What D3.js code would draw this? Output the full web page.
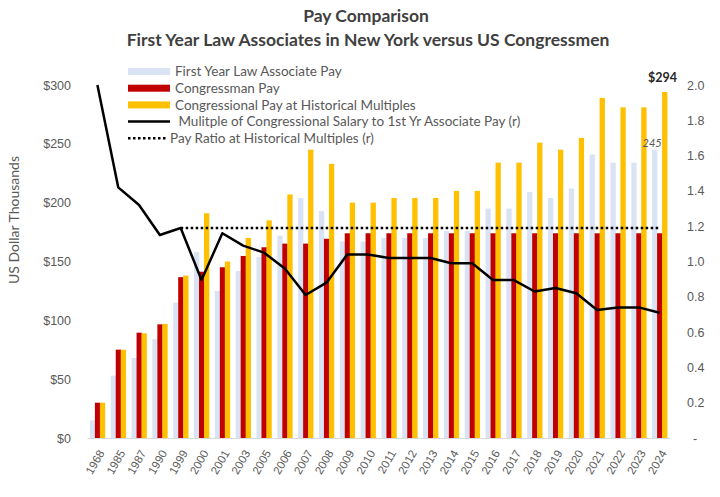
<!DOCTYPE html>
<html>
<head>
<meta charset="utf-8">
<script src="https://cdn.jsdelivr.net/npm/d3@7"></script>
<style>
  body { margin: 0; background: #fff; }
  svg { font-family: Lato, "Open Sans", sans-serif; }
  .axis text { fill: #595959; font-size: 12.5px; }
  .axis.x text { font-size: 11.5px; }
</style>
</head>
<body>
<div id="chart-container"></div>
<script>
// categories and series, values in US$ thousands (ratio series unitless)
const years = ["1968", "1985", "1987", "1990", "1999", "2000", "2001", "2003", "2005", "2006", "2007", "2008",
    "2009", "2010", "2011", "2012", "2013", "2014", "2015", "2016", "2017", "2018", "2019", "2020",
    "2021", "2022", "2023", "2024"];
const associatePay = [15, 53, 68, 84, 115, 158, 125, 142, 154, 172, 204, 193,
    167, 167, 170, 170, 170, 176, 176, 195, 195, 209, 204, 212, 241, 234, 234, 245];
const congressPay = [30, 75.1, 89.5, 96.6, 136.7, 141.3, 145.1, 154.7, 162.1, 165.2, 165.2, 169.3,
    174, 174, 174, 174, 174, 174, 174, 174, 174, 174, 174, 174, 174, 174, 174, 174];
const historicalPay = [30, 75, 89, 97, 138, 191, 150, 170, 185, 207, 245, 233,
    200, 200, 204, 204, 204, 210, 210, 234, 234, 251, 245, 255, 289, 281, 281, 294];
const payMultiple = [2.0, 1.42, 1.32, 1.15, 1.19, 0.895, 1.16, 1.09, 1.05, 0.96, 0.81, 0.88,
    1.04, 1.04, 1.02, 1.02, 1.02, 0.99, 0.99, 0.895, 0.895, 0.83, 0.85, 0.82, 0.725, 0.74, 0.74, 0.71];
const historicalRatio = [null, null, null, null, 1.19, 1.19, 1.19, 1.19, 1.19, 1.19, 1.19, 1.19,
    1.19, 1.19, 1.19, 1.19, 1.19, 1.19, 1.19, 1.19, 1.19, 1.19, 1.19, 1.19, 1.19, 1.19, 1.19, 1.19];
const leftTicks = [0, 50, 100, 150, 200, 250, 300];
const rightTicks = [0, 0.2, 0.4, 0.6, 0.8, 1.0, 1.2, 1.4, 1.6, 1.8, 2.0];

const seriesNames = ["associate", "congress", "historical"];
const colors = { associate: "#dae3f3", congress: "#c00000", historical: "#ffc000" };

const width = 720, height = 497;

const svg = d3.select("#chart-container")
    .append("svg")
    .attr("width", width)
    .attr("height", height);

const x = d3.scaleBand()
    .domain(years)
    .range([87, 670])
    .paddingInner(0.28)
    .paddingOuter(0.14);

const x1 = d3.scaleBand()
    .domain(seriesNames)
    .range([0, x.bandwidth()]);

const y = d3.scaleLinear().domain([0, 300]).range([438, 85]);
const y2 = d3.scaleLinear().domain([0, 2]).range([438, 85]);

const rows = years.map((yr, i) => ({
    year: yr,
    associate: associatePay[i],
    congress: congressPay[i],
    historical: historicalPay[i],
    multiple: payMultiple[i],
    ratio: historicalRatio[i]
}));

// titles
svg.append("text")
    .attr("x", 366).attr("y", 22)
    .attr("text-anchor", "middle")
    .attr("font-weight", "bold").attr("font-size", 17.5).attr("fill", "#404040")
    .text("Pay Comparison");
svg.append("text")
    .attr("x", 368).attr("y", 46)
    .attr("text-anchor", "middle")
    .attr("font-weight", "bold").attr("font-size", 17.5).attr("fill", "#404040")
    .text("First Year Law Associates in New York versus US Congressmen");

// bars
const groups = svg.append("g").selectAll("g")
    .data(rows)
    .enter().append("g")
    .attr("transform", d => `translate(${x(d.year)},0)`);

groups.selectAll("rect")
    .data(d => seriesNames.map(k => ({ key: k, value: d[k] })))
    .enter().append("rect")
    .attr("x", d => x1(d.key))
    .attr("width", x1.bandwidth() + 0.3)
    .attr("y", d => y(d.value))
    .attr("height", d => y(0) - y(d.value))
    .attr("fill", d => colors[d.key]);

// x axis
svg.append("g")
    .attr("class", "axis x")
    .attr("transform", `translate(0,${y(0)})`)
    .call(d3.axisBottom(x).tickSize(0).tickSizeOuter(0))
    .call(g => g.select(".domain").attr("stroke", "#d9d9d9"))
    .call(g => g.selectAll("text")
        .attr("text-anchor", "end")
        .attr("x", 0).attr("y", 0)
        .attr("transform", "translate(4,13) rotate(-60)")
        .attr("dx", 0).attr("dy", "0.35em"));

// left axis
svg.append("g")
    .attr("class", "axis y")
    .attr("transform", "translate(74,0)")
    .call(d3.axisLeft(y).tickValues(leftTicks).tickFormat(d => "$" + d).tickSize(0))
    .call(g => g.select(".domain").remove());

// right axis
svg.append("g")
    .attr("class", "axis y2")
    .attr("transform", "translate(684,0)")
    .call(d3.axisRight(y2).tickValues(rightTicks)
        .tickFormat(d => d === 0 ? "-" : d.toFixed(1)).tickSize(0))
    .call(g => g.select(".domain").remove())
    .call(g => g.selectAll(".tick text").filter(d => d === 0).attr("dx", 6));

svg.append("text")
    .attr("transform", `translate(19,220) rotate(-90)`)
    .attr("text-anchor", "middle")
    .attr("font-size", 14).attr("fill", "#595959")
    .text("US Dollar Thousands");

// lines
const cx = d => x(d.year) + x.bandwidth() / 2;

const multipleLine = d3.line()
    .x(cx)
    .y(d => y2(d.multiple));

const ratioLine = d3.line()
    .defined(d => d.ratio != null)
    .x(cx)
    .y(d => y2(d.ratio));

svg.append("path")
    .datum(rows)
    .attr("fill", "none")
    .attr("stroke", "#000")
    .attr("stroke-width", 2.5)
    .attr("stroke-linejoin", "round")
    .attr("d", multipleLine);

svg.append("path")
    .datum(rows)
    .attr("fill", "none")
    .attr("stroke", "#000")
    .attr("stroke-width", 2.5)
    .attr("stroke-dasharray", "2.5,2.5")
    .attr("d", ratioLine);

// value labels for last year
const last = rows[rows.length - 1];
svg.append("text")
    .attr("x", x(last.year) + x1("historical") + x1.bandwidth() / 2 - 2)
    .attr("y", y(last.historical) - 10)
    .attr("text-anchor", "middle")
    .attr("font-weight", "bold").attr("font-size", 12.5).attr("fill", "#262626")
    .text("$" + last.historical);
svg.append("text")
    .attr("x", x(last.year) + x1("associate"))
    .attr("y", y(last.associate) - 3)
    .attr("text-anchor", "middle")
    .attr("font-style", "italic").attr("font-size", 11).attr("fill", "#595959")
    .text(last.associate);

// legend
const legendItems = [
    { label: "First Year Law Associate Pay", type: "rect", color: colors.associate },
    { label: "Congressman Pay", type: "rect", color: colors.congress },
    { label: "Congressional Pay at Historical Multiples", type: "rect", color: colors.historical },
    { label: " Mulitple of Congressional Salary to 1st Yr Associate Pay (r)", type: "line" },
    { label: "Pay Ratio at Historical Multiples (r)", type: "dash" }
];

const legend = svg.append("g").attr("transform", "translate(128,71.5)");
const li = legend.selectAll("g")
    .data(legendItems)
    .enter().append("g")
    .attr("transform", (d, i) => `translate(0,${i * 16.7})`);

li.filter(d => d.type === "rect").append("rect")
    .attr("x", 0).attr("y", -3.5).attr("width", 42).attr("height", 7)
    .attr("fill", d => d.color);
li.filter(d => d.type === "line").append("line")
    .attr("x1", 0).attr("x2", 42).attr("y1", 0).attr("y2", 0)
    .attr("stroke", "#000").attr("stroke-width", 2.5);
li.filter(d => d.type === "dash").append("line")
    .attr("x1", 0).attr("x2", 39).attr("y1", 0).attr("y2", 0)
    .attr("stroke", "#000").attr("stroke-width", 2.5).attr("stroke-dasharray", "2.5,2.5");

li.append("text")
    .attr("x", d => d.type === "dash" ? 42 : 47)
    .attr("y", 0)
    .attr("dy", "0.35em")
    .attr("font-size", 13.5).attr("fill", "#595959")
    .attr("xml:space", "preserve")
    .style("white-space", "pre")
    .text(d => d.label);
</script>
</body>
</html>
